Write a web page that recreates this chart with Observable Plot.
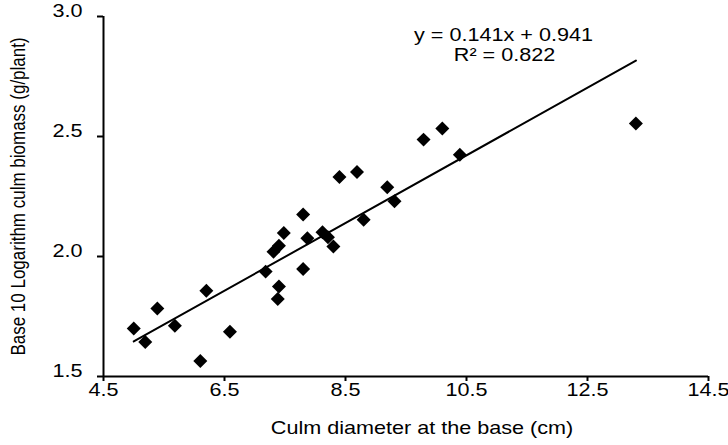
<!DOCTYPE html>
<html><head><meta charset="utf-8">
<script src="https://cdn.jsdelivr.net/npm/d3@7"></script>
<script src="https://cdn.jsdelivr.net/npm/@observablehq/plot@0.6"></script>
<style>body{margin:0;background:#fff}</style>
</head><body><div id="chart"></div>
<script>
// Data
const diameter = [5.00, 5.19, 5.39, 5.68, 6.10, 6.20, 6.59, 7.18, 7.31, 7.38, 7.40, 7.40, 7.48, 7.80,
                  7.80, 7.87, 8.12, 8.21, 8.30, 8.40, 8.69, 8.80, 9.19, 9.31, 9.79, 10.10, 10.39, 13.30];
const biomass  = [1.700, 1.644, 1.783, 1.711, 1.565, 1.857, 1.686, 1.937, 2.020, 1.823, 1.875, 2.045, 2.098, 2.175,
                  1.948, 2.076, 2.101, 2.080, 2.042, 2.331, 2.352, 2.153, 2.289, 2.230, 2.487, 2.533, 2.424, 2.554];
const xTicks = [4.5, 6.5, 8.5, 10.5, 12.5, 14.5];
const yTicks = [1.5, 2.0, 2.5, 3.0];
const slope = 0.141, intercept = 0.941, r2 = 0.822;
const xLabel = "Culm diameter at the base (cm)";
const yLabel = "Base 10 Logarithm culm biomass (g/plant)";
const equation = `y = ${slope}x + ${intercept}`;
const rSquared = `R² = ${r2}`;

const points = diameter.map((x, i) => ({x, y: biomass[i]}));
const fitLine = d3.extent(diameter).map(x => ({x, y: slope * x + intercept}));

const chart = Plot.plot({
  width: 728, height: 445,
  marginLeft: 103, marginRight: 20, marginTop: 16, marginBottom: 69,
  style: {fontFamily: "'Liberation Sans', Arial, sans-serif", fontSize: "18px", color: "#000", background: "#fff"},
  x: {domain: [xTicks[0], xTicks[xTicks.length - 1]]},
  y: {domain: [yTicks[0], yTicks[yTicks.length - 1]]},
  marks: [
    Plot.axisX({ticks: xTicks, tickFormat: d3.format(".1f"), tickSize: 5, tickPadding: 14, strokeWidth: 2, label: null, fontSize: 18}),
    Plot.axisY({ticks: yTicks, tickFormat: d3.format(".1f"), tickSize: 6, tickPadding: 15, strokeWidth: 2, label: null, fontSize: 18}),
    Plot.ruleX([xTicks[0]], {strokeWidth: 2, stroke: "#000"}),
    Plot.ruleY([yTicks[0]], {strokeWidth: 2, stroke: "#000"}),
    Plot.line(fitLine, {x: "x", y: "y", strokeWidth: 2, stroke: "#000"}),
    Plot.dot(points, {x: "x", y: "y", symbol: "diamond2", r: 6.3, fill: "#000", stroke: "none"}),
    Plot.text([equation], {frameAnchor: "top-left", textAnchor: "middle", lineAnchor: "middle", dx: 400, dy: 24, fontSize: 18, fill: "#000"}),
    Plot.text([rSquared], {frameAnchor: "top-left", textAnchor: "middle", lineAnchor: "middle", dx: 401, dy: 44, fontSize: 18, fill: "#000"}),
    Plot.text([xLabel], {frameAnchor: "bottom", textAnchor: "middle", lineAnchor: "middle", dx: 16, dy: 57, fontSize: 18, fill: "#000"}),
    Plot.text([yLabel], {frameAnchor: "left", textAnchor: "middle", lineAnchor: "middle", rotate: -90, dx: -79, dy: 0, fontSize: 17, fill: "#000"})
  ]
});
document.getElementById("chart").appendChild(chart);

// The reference's text is stretched horizontally
chart.querySelectorAll("text").forEach(t => {
  const x = +t.getAttribute("x") || 0, y = +t.getAttribute("y") || 0;
  const tr = t.getAttribute("transform") || "";
  t.removeAttribute("x"); t.removeAttribute("y");
  const s = t.textContent === yLabel ? "scale(1,1.2)" : "scale(1.2,1)";
  t.setAttribute("transform", `${tr} translate(${x},${y}) ${s}`);
});
</script>
</body></html>
